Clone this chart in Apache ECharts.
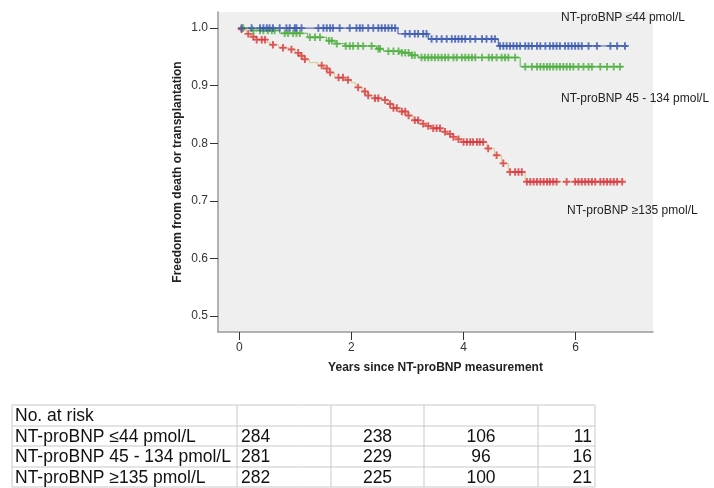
<!DOCTYPE html>
<html>
<head>
<meta charset="utf-8">
<script src="https://cdn.jsdelivr.net/npm/echarts@6/dist/echarts.min.js"></script>
<style>
html,body{margin:0;padding:0;background:#fff;}
#chart{width:714px;height:488px;}
</style>
</head>
<body>
<div id="chart"></div>
<script>
// ---- axis ticks ----
const xTicks = [0, 2, 4, 6];
const yTicks = [0.5, 0.6, 0.7, 0.8, 0.9, 1.0];

// ---- Kaplan-Meier steps: [time (years), survival after event] ----
const lowSteps = [[0, 1.0], [2.83, 0.99], [3.37, 0.981], [4.62, 0.969], [6.92, 0.969]];
const midSteps = [[0, 1.0], [0.19, 0.996], [0.72, 0.991], [1.22, 0.984], [1.56, 0.978], [1.71, 0.973],
  [1.88, 0.969], [2.45, 0.964], [2.57, 0.96], [2.87, 0.957], [3.05, 0.953], [3.19, 0.949],
  [5.01, 0.933], [6.85, 0.933]];
const highSteps = [[0, 1.0], [0.03, 0.998], [0.13, 0.99], [0.2, 0.985], [0.3, 0.98], [0.5, 0.975],
  [0.55, 0.971], [0.7, 0.966], [0.85, 0.963], [1.0, 0.957], [1.08, 0.952], [1.14, 0.946],
  [1.25, 0.94], [1.4, 0.935], [1.5, 0.93], [1.6, 0.923], [1.7, 0.914], [1.9, 0.91], [2.0, 0.905],
  [2.08, 0.897], [2.2, 0.89], [2.3, 0.883], [2.4, 0.878], [2.55, 0.875], [2.65, 0.868],
  [2.75, 0.861], [2.85, 0.855], [3.0, 0.848], [3.1, 0.84], [3.2, 0.834], [3.3, 0.83],
  [3.42, 0.826], [3.6, 0.82], [3.68, 0.816], [3.8, 0.811], [3.9, 0.807], [3.97, 0.802],
  [4.42, 0.791], [4.55, 0.779], [4.68, 0.765], [4.8, 0.75], [5.1, 0.733], [6.85, 0.733]];

// ---- censoring times (years) ----
const lowCensor = [0.04, 0.22, 0.37, 0.43, 0.49, 0.54, 0.6, 0.72, 0.84, 0.9, 0.99, 1.02, 1.11,
  1.41, 1.5, 1.56, 1.62, 1.67, 1.79, 1.97, 2.09, 2.15, 2.2, 2.3, 2.39, 2.48, 2.54, 2.6, 2.66,
  2.72, 2.78, 2.96, 3.04, 3.13, 3.19, 3.28, 3.34, 3.43, 3.52, 3.61, 3.7, 3.79, 3.85, 3.91,
  3.97, 4.03, 4.12, 4.21, 4.33, 4.41, 4.5, 4.56, 4.65, 4.71, 4.77, 4.83, 4.89, 4.95, 5.01,
  5.1, 5.16, 5.22, 5.31, 5.37, 5.46, 5.54, 5.6, 5.66, 5.72, 5.81, 5.87, 5.93, 5.99, 6.05,
  6.11, 6.23, 6.38, 6.62, 6.74, 6.88];
const midCensor = [0.07, 0.25, 0.37, 0.43, 0.51, 0.58, 0.63, 0.81, 0.87, 0.96, 1.02, 1.08, 1.26,
  1.35, 1.44, 1.6, 1.65, 1.74, 1.9, 1.97, 2.03, 2.12, 2.21, 2.36, 2.48, 2.51, 2.66, 2.75, 2.84,
  2.9, 2.96, 3.02, 3.08, 3.13, 3.25, 3.31, 3.37, 3.43, 3.49, 3.55, 3.61, 3.67, 3.73, 3.82,
  3.88, 3.97, 4.03, 4.09, 4.15, 4.21, 4.33, 4.45, 4.51, 4.59, 4.68, 4.74, 4.8, 4.92, 5.1,
  5.22, 5.31, 5.37, 5.43, 5.49, 5.54, 5.6, 5.66, 5.72, 5.78, 5.84, 5.9, 5.96, 6.05, 6.14,
  6.23, 6.29, 6.44, 6.56, 6.68, 6.79];
const highCensor = [0.04, 0.16, 0.25, 0.31, 0.4, 0.46, 0.6, 0.78, 0.93, 1.05, 1.11, 1.17, 1.47,
  1.56, 1.62, 1.77, 1.85, 1.94, 2.12, 2.24, 2.3, 2.42, 2.48, 2.6, 2.69, 2.75, 2.81, 2.9, 2.96,
  3.02, 3.13, 3.19, 3.28, 3.37, 3.46, 3.52, 3.58, 3.67, 3.76, 3.82, 3.91, 4.0, 4.06, 4.12,
  4.17, 4.24, 4.29, 4.35, 4.44, 4.59, 4.71, 4.83, 4.92, 4.98, 5.04, 5.13, 5.19, 5.25, 5.31,
  5.37, 5.43, 5.49, 5.54, 5.6, 5.66, 5.84, 5.99, 6.05, 6.11, 6.17, 6.23, 6.29, 6.35, 6.44,
  6.5, 6.56, 6.62, 6.68, 6.74, 6.83];

// ---- group labels & number at risk table ----
const groupNames = ['NT-proBNP ≤44 pmol/L', 'NT-proBNP 45 - 134 pmol/L', 'NT-proBNP ≥135 pmol/L'];
const riskHeader = 'No. at risk';
const riskLow = [284, 238, 106, 11];
const riskMid = [281, 229, 96, 16];
const riskHigh = [282, 225, 100, 21];

// ---------------------------------------------------------------
function survAt(steps, t) {
  let s = steps[0][1];
  for (const p of steps) { if (p[0] <= t) s = p[1]; }
  return s;
}
function censorPts(steps, times) { return times.map(t => [t, survAt(steps, t)]); }

const plusPath = 'path://M3.7,0H6.3V3.7H10V6.3H6.3V10H3.7V6.3H0V3.7H3.7Z';
const FONT = '"Liberation Sans", Arial, sans-serif';

function groupSeries(name, steps, censor, lineColor, markColor) {
  return [
    { type: 'line', name: name, step: 'end', data: steps, showSymbol: false, symbol: 'none',
      lineStyle: { color: lineColor, width: 1 }, z: 2, silent: true },
    { type: 'scatter', name: name + ' censored', data: censorPts(steps, censor), symbol: plusPath,
      symbolSize: 7.5, itemStyle: { color: markColor, opacity: 0.8 }, z: 3, silent: true }
  ];
}

// table geometry
const colX = [12, 237, 331, 424, 538, 595];
const rowY = [405, 426, 446, 467, 487];
const tblGraphic = [];
const border = '#c9c9c9';
for (const y of rowY) {
  tblGraphic.push({ type: 'line', shape: { x1: colX[0], y1: y, x2: colX[5], y2: y },
    style: { stroke: border, lineWidth: 1 } });
}
for (const x of colX) {
  tblGraphic.push({ type: 'line', shape: { x1: x, y1: rowY[0], x2: x, y2: rowY[4] },
    style: { stroke: border, lineWidth: 1 } });
}
function cellText(txt, x, y, align) {
  return { type: 'text', x: x, y: y,
    style: { text: String(txt), font: '17.5px ' + FONT, fill: '#111', align: align, verticalAlign: 'middle' } };
}
tblGraphic.push(cellText(riskHeader, colX[0] + 3, (rowY[0] + rowY[1]) / 2 + 1, 'left'));
const riskRows = [riskLow, riskMid, riskHigh];
riskRows.forEach((vals, i) => {
  const cy = (rowY[i + 1] + rowY[i + 2]) / 2 + 1;
  tblGraphic.push(cellText(groupNames[i], colX[0] + 3, cy, 'left'));
  tblGraphic.push(cellText(vals[0], colX[1] + 4, cy, 'left'));
  tblGraphic.push(cellText(vals[1], (colX[2] + colX[3]) / 2, cy, 'center'));
  tblGraphic.push(cellText(vals[2], (colX[3] + colX[4]) / 2, cy, 'center'));
  tblGraphic.push(cellText(vals[3], colX[5] - 3, cy, 'right'));
});

function groupLabel(txt, x, y) {
  return { type: 'text', x: x, y: y, z: 10,
    style: { text: txt, font: '12px ' + FONT, fill: '#222', align: 'left', verticalAlign: 'middle' } };
}

const chart = echarts.init(document.getElementById('chart'), null, { renderer: 'canvas' });
chart.setOption({
  animation: false,
  backgroundColor: '#ffffff',
  grid: { left: 218, right: 61, top: 12, bottom: 156, show: true, backgroundColor: '#efefef', borderWidth: 0 },
  xAxis: {
    type: 'value', min: -0.38, max: 7.38,
    name: 'Years since NT-proBNP measurement', nameLocation: 'middle', nameGap: 30, nameMoveOverlap: false,
    nameTextStyle: { fontFamily: FONT, fontWeight: 'bold', fontSize: 12, color: '#222' },
    axisLine: { show: true, onZero: false, lineStyle: { color: '#9a9a9a', width: 1.5 } },
    axisTick: { show: true, length: 8, customValues: xTicks, lineStyle: { color: '#333', width: 1 } },
    axisLabel: { customValues: xTicks, margin: 10, fontFamily: FONT, fontSize: 12, color: '#333' },
    splitLine: { show: false }
  },
  yAxis: {
    type: 'value', min: 0.472, max: 1.028,
    name: 'Freedom from death or transplantation', nameLocation: 'middle', nameGap: 34, nameMoveOverlap: false,
    nameTextStyle: { fontFamily: FONT, fontWeight: 'bold', fontSize: 12, color: '#222' },
    axisLine: { show: true, onZero: false, lineStyle: { color: '#9a9a9a', width: 1.5 } },
    axisTick: { show: true, length: 8, customValues: yTicks, lineStyle: { color: '#333', width: 1 } },
    axisLabel: { customValues: yTicks, margin: 10, fontFamily: FONT, fontSize: 12, color: '#333',
      formatter: v => v.toFixed(1) },
    splitLine: { show: false }
  },
  series: [
    ...groupSeries(groupNames[2], highSteps, highCensor, '#d8c888', '#d9363a'),
    ...groupSeries(groupNames[1], midSteps, midCensor, '#5fb552', '#4dae3f'),
    ...groupSeries(groupNames[0], lowSteps, lowCensor, '#3c56a8', '#3a58b2')
  ],
  graphic: [
    groupLabel(groupNames[0], 561, 18),
    groupLabel(groupNames[1], 561, 99),
    groupLabel(groupNames[2], 567, 211),
    ...tblGraphic
  ]
});
</script>
</body>
</html>
